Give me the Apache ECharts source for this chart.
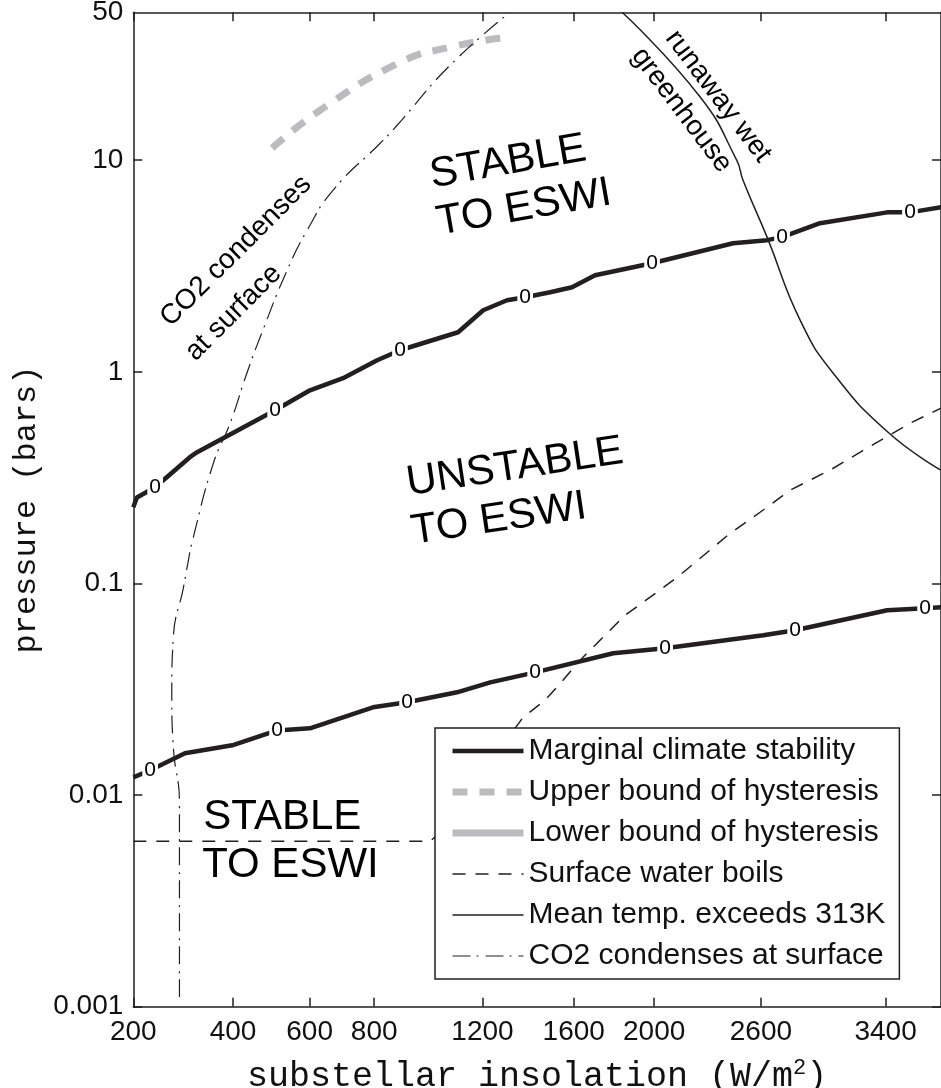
<!DOCTYPE html>
<html><head><meta charset="utf-8">
<script src="https://cdn.jsdelivr.net/npm/echarts@6/dist/echarts.min.js"></script>
<style>html,body{margin:0;padding:0;background:#fff}#c{width:941px;height:1088px}</style>
</head><body><div id="c"></div>
<script>
// ---- axes ----
const xTicks = [200, 400, 600, 800, 1200, 1600, 2000, 2600, 3400];
const xMin = 200, xMax = 3790;
const yTicks = [0.001, 0.01, 0.1, 1, 10, 50];
const yTickLabels = ['0.001', '0.01', '0.1', '1', '10', '50'];
const yMin = 0.001, yMax = 50;

// ---- series (insolation W/m2, pressure bar) ----
const marginalUpperX = [200, 206, 238, 305, 320, 505, 601, 700, 810, 888, 1103, 1203, 1302, 1380, 1491, 1592, 1702, 1989, 2436, 2637, 2728, 2966, 3411, 3569, 3790];
const marginalUpperY = [0.229, 0.255, 0.285, 0.395, 0.417, 0.658, 0.818, 0.933, 1.134, 1.265, 1.538, 1.955, 2.178, 2.252, 2.377, 2.51, 2.861, 3.26, 4.053, 4.19, 4.33, 5.04, 5.67, 5.67, 6.0];
const marginalLowerX = [200, 229, 295, 398, 510, 601, 796, 913, 1099, 1232, 1424, 1791, 2058, 2614, 2809, 3411, 3676, 3790];
const marginalLowerY = [0.01213, 0.0131, 0.01576, 0.01718, 0.0202, 0.02068, 0.026, 0.02748, 0.0306, 0.0341, 0.038, 0.0468, 0.0494, 0.0569, 0.0601, 0.0747, 0.0764, 0.0773];
const upperHystX = [497, 630, 888, 1072, 1294];
const upperHystY = [11.4, 17.2, 29.0, 34.2, 38.1];
const lowerHystX = [];
const lowerHystY = [];
const boilsX = [200, 996, 1018, 1371, 1469, 1550, 1630, 1702, 1850, 1979, 2123, 2249, 2419, 2595, 2778, 3051, 3295, 3569, 3790];
const boilsY = [0.00605, 0.00605, 0.00638, 0.0233, 0.0281, 0.0349, 0.0434, 0.0511, 0.0708, 0.0861, 0.1069, 0.1315, 0.1726, 0.217, 0.2757, 0.3503, 0.445, 0.5715, 0.673];
const meanTempX = [1835, 2249, 2457, 2494, 2637, 2840, 3051, 3417, 3790];
const meanTempY = [50, 19.9, 10, 8.04, 4.33, 1.754, 0.985, 0.518, 0.343];
const co2X = [284, 284, 272, 269, 272, 292, 302, 309, 355, 393, 433, 473, 537, 593, 669, 820, 878, 1072, 1315];
const co2Y = [0.00111, 0.00915, 0.01683, 0.0303, 0.0557, 0.0959, 0.1288, 0.1549, 0.37, 0.571, 0.985, 1.573, 3.02, 4.67, 7.21, 12.03, 14.63, 28.1, 50];

// contour "0" label locations
const contourUpperX = [238, 505, 888, 1380, 1989, 2728, 3569];
const contourUpperY = [0.285, 0.658, 1.265, 2.252, 3.26, 4.33, 5.67];
const contourLowerX = [229, 510, 913, 1424, 2058, 2809, 3676];
const contourLowerY = [0.0131, 0.0202, 0.0275, 0.038, 0.0494, 0.0601, 0.0764];

// annotation texts (anchored at data coordinates)
const annoText = ['STABLE', 'TO ESWI', 'UNSTABLE', 'TO ESWI', 'STABLE', 'TO ESWI', 'CO2 condenses', 'at surface', 'runaway wet', 'greenhouse'];
const annoX = [1306, 1375, 1336, 1268, 524, 546, 407, 401, 2350, 2147];
const annoY = [9.78, 5.95, 0.354, 0.201, 0.00785, 0.004656, 3.72, 1.90, 20.04, 17.23];
const annoRotate = [10, 10, 8.5, 8.5, 0, 0, 45, 45, -53, -53];
const annoSize = [42, 42, 42, 42, 42, 42, 28, 28, 28, 28];

const names = ['Marginal climate stability', 'Upper bound of hysteresis', 'Lower bound of hysteresis', 'Surface water boils', 'Mean temp. exceeds 313K', 'CO2 condenses at surface'];

// ---- transforms (sqrt x, log10 y) ----
const tx = v => Math.sqrt(v);
const ty = v => Math.log10(v);
const pts = (xs, ys) => xs.map((x, i) => [tx(x), ty(ys[i])]);

const INK = '#231f20';
const GRAY = '#bcbcc0';
const SANS = 'Liberation Sans';
const MONO = 'Liberation Mono';

function lineSeries(name, data, style, smooth) {
  return { name, type: 'line', data, symbol: 'none', symbolSize: 0, showSymbol: false, smooth: smooth || false,
    lineStyle: style, itemStyle: { color: style.color }, z: 2, animation: false };
}

const contourData = pts(contourUpperX, contourUpperY).concat(pts(contourLowerX, contourLowerY));

const annoData = annoText.map((t, i) => ({
  value: [tx(annoX[i]), ty(annoY[i])],
  label: { formatter: t, rotate: annoRotate[i], fontSize: annoSize[i] }
}));

const xTickVals = xTicks.map(tx);
const yTickVals = yTicks.map(ty);
const yFmt = v => { for (let i = 0; i < yTicks.length; i++) if (Math.abs(ty(yTicks[i]) - v) < 1e-6) return yTickLabels[i]; return ''; };

const axisLine = { show: true, onZero: false, lineStyle: { color: INK, width: 1.5 } };
const tick = vals => ({ show: true, inside: true, length: 9, lineStyle: { color: INK, width: 1.5 }, customValues: vals });
const txtLabel = { show: true, position: 'inside', color: '#000', opacity: 1, textBorderWidth: 0, textShadowBlur: 0, fontFamily: SANS };

const option = {
  animation: false,
  backgroundColor: '#fff',
  grid: { left: 133.3, right: 0, top: 12.3, bottom: 81.3, outerBoundsMode: 'none', containLabel: false },
  xAxis: [
    { type: 'value', min: tx(xMin), max: tx(xMax), position: 'bottom', axisLine, axisTick: tick(xTickVals), splitLine: { show: false },
      axisLabel: { customValues: xTickVals, formatter: v => String(Math.round(v * v)), fontFamily: SANS, fontSize: 28, color: '#111', margin: 12 },
      name: '{a|substellar insolation (W/m}{s|2}{a|)}', nameLocation: 'middle', nameGap: 50,
      nameTextStyle: { rich: { a: { fontFamily: MONO, fontSize: 35, color: '#111', lineHeight: 40 }, s: { fontFamily: MONO, fontSize: 22, color: '#111', verticalAlign: 'top', lineHeight: 24 } } } },
    { type: 'value', min: tx(xMin), max: tx(xMax), position: 'top', axisLine, axisTick: tick(xTickVals), axisLabel: { show: false }, splitLine: { show: false } }
  ],
  yAxis: [
    { type: 'value', min: ty(yMin), max: ty(yMax), position: 'left', axisLine, axisTick: tick(yTickVals.slice(0, 5)), splitLine: { show: false },
      axisLabel: { customValues: yTickVals, formatter: yFmt, fontFamily: SANS, fontSize: 28, color: '#111', margin: 10 },
      name: 'pressure (bars)', nameLocation: 'middle', nameGap: 87, nameRotate: 90,
      nameTextStyle: { fontFamily: MONO, fontSize: 32, color: '#111' } },
    { type: 'value', min: ty(yMin), max: ty(yMax), position: 'right', axisLine, axisTick: tick(yTickVals.slice(0, 5)), axisLabel: { show: false }, splitLine: { show: false } }
  ],
  legend: {
    data: names, orient: 'vertical', left: 435, top: 728, padding: [8, 14, 8, 14],
    itemWidth: 71, itemHeight: 14, itemGap: 11, selectedMode: false, z: 10,
    itemStyle: { opacity: 0 }, lineStyle: { width: 'inherit' },
    backgroundColor: '#fff', borderColor: INK, borderWidth: 1.5, borderRadius: 0,
    textStyle: { fontFamily: SANS, fontSize: 30, color: '#111', lineHeight: 30 }
  },
  series: [
    lineSeries(names[0], pts(marginalUpperX, marginalUpperY), { color: INK, width: 4.5, type: 'solid' }),
    lineSeries(names[1], pts(upperHystX, upperHystY), { color: GRAY, width: 7, type: [15, 12] }, true),
    lineSeries(names[2], pts(lowerHystX, lowerHystY), { color: GRAY, width: 7, type: 'solid' }),
    lineSeries(names[3], pts(boilsX, boilsY), { color: INK, width: 1.5, type: [13, 10] }),
    lineSeries(names[4], pts(meanTempX, meanTempY), { color: INK, width: 1.5, type: 'solid' }, true),
    lineSeries(names[5], pts(co2X, co2Y), { color: INK, width: 1.2, type: [18, 6, 2, 7] }, true),
    lineSeries(names[0], pts(marginalLowerX, marginalLowerY), { color: INK, width: 4.5, type: 'solid' }),
    { type: 'scatter', data: contourData, symbolSize: 0, itemStyle: { color: INK }, z: 3, animation: false, silent: true,
      label: Object.assign({}, txtLabel, { formatter: '0', fontSize: 21, backgroundColor: '#fff', padding: [0, 2] }) },
    { type: 'scatter', data: annoData, symbolSize: 0, itemStyle: { color: INK }, z: 3, animation: false, silent: true,
      label: Object.assign({}, txtLabel, { align: 'center', verticalAlign: 'middle' }) }
  ]
};

const chart = echarts.init(document.getElementById('c'), null, { renderer: 'canvas' });
chart.setOption(option);
</script>
</body></html>
